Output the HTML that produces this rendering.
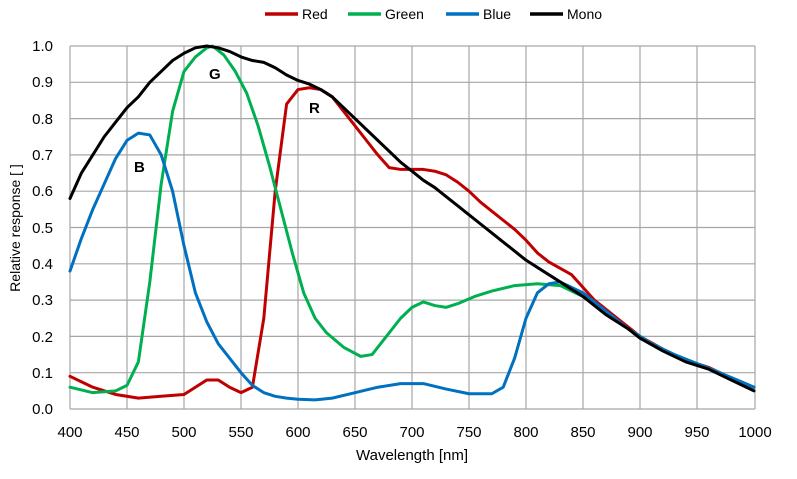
<!DOCTYPE html>
<html><head><meta charset="utf-8"><style>
body{margin:0;background:#fff;}
svg{display:block;font-family:"Liberation Sans",sans-serif;}
</style></head><body>
<svg width="797" height="479" xmlns="http://www.w3.org/2000/svg">
<rect width="797" height="479" fill="#fff"/>
<g stroke="#a6a6a6" stroke-width="1.2">
<line x1="70" y1="46" x2="755" y2="46"/><line x1="70" y1="82.3" x2="755" y2="82.3"/><line x1="70" y1="118.6" x2="755" y2="118.6"/><line x1="70" y1="154.9" x2="755" y2="154.9"/><line x1="70" y1="191.2" x2="755" y2="191.2"/><line x1="70" y1="227.5" x2="755" y2="227.5"/><line x1="70" y1="263.8" x2="755" y2="263.8"/><line x1="70" y1="300.1" x2="755" y2="300.1"/><line x1="70" y1="336.4" x2="755" y2="336.4"/><line x1="70" y1="372.7" x2="755" y2="372.7"/><line x1="70" y1="409" x2="755" y2="409"/>
<line x1="70" y1="46" x2="70" y2="409"/><line x1="127" y1="46" x2="127" y2="409"/><line x1="184" y1="46" x2="184" y2="409"/><line x1="241" y1="46" x2="241" y2="409"/><line x1="298" y1="46" x2="298" y2="409"/><line x1="355" y1="46" x2="355" y2="409"/><line x1="412" y1="46" x2="412" y2="409"/><line x1="469" y1="46" x2="469" y2="409"/><line x1="526" y1="46" x2="526" y2="409"/><line x1="583" y1="46" x2="583" y2="409"/><line x1="640" y1="46" x2="640" y2="409"/><line x1="697" y1="46" x2="697" y2="409"/><line x1="755" y1="46" x2="755" y2="409"/>
</g>
<g font-size="15" fill="#000" text-anchor="end">
<text x="53" y="51">1.0</text><text x="53" y="87">0.9</text><text x="53" y="124">0.8</text><text x="53" y="160">0.7</text><text x="53" y="196">0.6</text><text x="53" y="233">0.5</text><text x="53" y="269">0.4</text><text x="53" y="305">0.3</text><text x="53" y="342">0.2</text><text x="53" y="378">0.1</text><text x="53" y="414">0.0</text>
</g>
<g font-size="15" fill="#000" text-anchor="middle">
<text x="70" y="437">400</text><text x="127" y="437">450</text><text x="184" y="437">500</text><text x="241" y="437">550</text><text x="298" y="437">600</text><text x="355" y="437">650</text><text x="412" y="437">700</text><text x="469" y="437">750</text><text x="526" y="437">800</text><text x="583" y="437">850</text><text x="640" y="437">900</text><text x="697" y="437">950</text><text x="755" y="437">1000</text>
<text x="412" y="460">Wavelength [nm]</text>
</g>
<text transform="translate(20,228) rotate(-90)" font-size="14" text-anchor="middle">Relative response [ ]</text>
<g font-size="14">
<line x1="265" y1="14" x2="298" y2="14" stroke="#c00000" stroke-width="3.5"/><text x="302" y="19">Red</text>
<line x1="348" y1="14" x2="381" y2="14" stroke="#00b050" stroke-width="3.5"/><text x="385" y="19">Green</text>
<line x1="446" y1="14" x2="479" y2="14" stroke="#0070c0" stroke-width="3.5"/><text x="483" y="19">Blue</text>
<line x1="530" y1="14" x2="563" y2="14" stroke="#000" stroke-width="3.5"/><text x="567" y="19">Mono</text>
</g>
<g transform="translate(70,409) scale(1.14,-363) translate(-400,0)" fill="none" stroke-linejoin="round" stroke-linecap="round">
<polyline vector-effect="non-scaling-stroke" stroke="#c00000" stroke-width="3" points="400,.09 420,.06 440,.04 460,.03 480,.035 500,.04 510,.06 520,.08 530,.08 540,.06 550,.045 560,.06 570,.25 580,.6 590,.84 600,.88 610,.885 620,.88 630,.86 640,.82 650,.78 660,.74 670,.7 680,.665 690,.66 710,.66 720,.655 730,.645 740,.625 750,.6 760,.57 770,.545 780,.52 790,.495 800,.465 810,.43 820,.405 840,.37 860,.3 880,.25 900,.2 920,.165 940,.135 960,.115 980,.085 1000,.06"/>
<polyline vector-effect="non-scaling-stroke" stroke="#00b050" stroke-width="3" points="400,.06 420,.045 440,.05 450,.065 460,.13 470,.35 480,.62 490,.82 500,.93 510,.97 520,.995 525,1 535,.975 545,.93 555,.87 565,.78 575,.67 585,.55 595,.43 605,.32 615,.25 625,.21 640,.17 655,.145 665,.15 675,.19 690,.25 700,.28 710,.295 720,.285 730,.28 740,.29 755,.31 770,.325 790,.34 810,.345 830,.34 850,.31 870,.265 890,.22 910,.18 930,.15 950,.125 970,.1 1000,.06"/>
<polyline vector-effect="non-scaling-stroke" stroke="#0070c0" stroke-width="3" points="400,.38 410,.47 420,.55 430,.62 440,.69 450,.74 460,.76 470,.755 480,.7 490,.6 500,.45 510,.32 520,.24 530,.18 540,.14 550,.1 560,.065 570,.045 580,.035 590,.03 600,.027 615,.025 630,.03 650,.045 670,.06 690,.07 710,.07 730,.055 750,.042 770,.042 780,.06 790,.14 800,.25 810,.32 820,.345 830,.35 850,.32 870,.27 890,.22 910,.18 930,.15 950,.125 970,.1 1000,.06"/>
<polyline vector-effect="non-scaling-stroke" stroke="#000" stroke-width="3" points="400,.58 410,.65 420,.7 430,.75 440,.79 450,.83 460,.86 470,.9 480,.93 490,.96 500,.98 510,.995 520,1 530,.995 540,.985 550,.97 560,.96 570,.955 580,.94 590,.92 600,.905 610,.895 620,.88 630,.86 640,.83 650,.8 660,.77 670,.74 680,.71 690,.68 700,.655 710,.63 720,.61 730,.585 740,.56 750,.535 760,.51 770,.485 780,.46 790,.435 800,.41 810,.39 820,.37 830,.35 840,.33 850,.31 860,.285 870,.26 880,.24 890,.22 900,.195 920,.16 940,.13 960,.11 980,.08 1000,.05"/>
</g>
<g font-size="15" font-weight="bold">
<text x="134" y="172">B</text><text x="209" y="79">G</text><text x="309" y="113">R</text>
</g>
</svg>
</body></html>
